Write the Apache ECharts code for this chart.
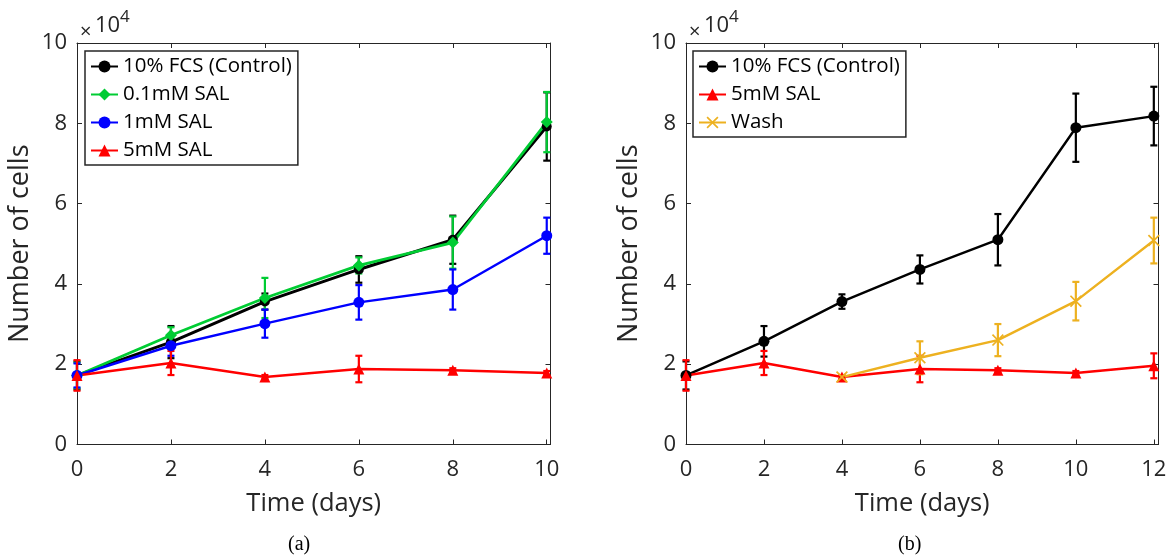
<!DOCTYPE html>
<html><head><meta charset="utf-8">
<script src="https://cdn.jsdelivr.net/npm/echarts@6/dist/echarts.min.js"></script>
<style>html,body{margin:0;padding:0;background:#fff}#c{width:1176px;height:559px}</style>
</head><body><div id="c"></div>
<script>
// ---- data (values in units of 10^4 cells) ----
const daysA = [0, 2, 4, 6, 8, 10];
const daysB = [0, 2, 4, 6, 8, 10, 12];
const washDays = [4, 6, 8, 10, 12];

const ctrlA    = [1.72, 2.55, 3.56, 4.36, 5.10, 7.92];
const ctrlAErr = [0.35, 0.40, 0.20, 0.33, 0.60, 0.85];
const sal01A    = [1.72, 2.72, 3.65, 4.46, 5.03, 8.03];
const sal01AErr = [0.32, 0.20, 0.50, 0.20, 0.65, 0.75];
const sal1A    = [1.72, 2.46, 3.01, 3.54, 3.86, 5.20];
const sal1AErr = [0.30, 0.25, 0.35, 0.43, 0.50, 0.45];
const sal5A    = [1.72, 2.03, 1.68, 1.88, 1.85, 1.78];
const sal5AErr = [0.38, 0.30, 0.05, 0.33, 0.05, 0.05];

const ctrlB    = [1.72, 2.57, 3.56, 4.36, 5.10, 7.89, 8.18];
const ctrlBErr = [0.35, 0.38, 0.18, 0.35, 0.64, 0.85, 0.73];
const sal5B    = [1.72, 2.03, 1.68, 1.88, 1.85, 1.78, 1.96];
const sal5BErr = [0.38, 0.30, 0.05, 0.33, 0.05, 0.05, 0.31];
const washB    = [1.68, 2.16, 2.60, 3.57, 5.08];
const washBErr = [0.04, 0.41, 0.40, 0.48, 0.57];

const namesA = ['10% FCS (Control)', '0.1mM SAL', '1mM SAL', '5mM SAL'];
const namesB = ['10% FCS (Control)', '5mM SAL', 'Wash'];
const yTicks = [0, 2, 4, 6, 8, 10];
const xLabel = 'Time (days)';
const yLabel = 'Number of cells';
const panelLabels = ['(a)', '(b)'];

// ---- styles ----
const FONT = '"Open Sans", "Noto Sans", sans-serif';
const AX = '#262626';
const C_BLACK = '#000000', C_GREEN = '#00cc33', C_BLUE = '#0000ff', C_RED = '#ff0000', C_ORANGE = '#edb120';
const CROSS = 'path://M0,1L1,0L5,4L9,0L10,1L6,5L10,9L9,10L5,6L1,10L0,9L4,5Z';

function pairs(xs, ys) { return xs.map((x, i) => [x, ys[i]]); }

function errSeries(ai, xs, ys, es, color, lw) {
  return {
    type: 'custom', xAxisIndex: ai, yAxisIndex: ai, silent: true, animation: false,
    data: xs.map((x, i) => [x, ys[i] - es[i], ys[i] + es[i]]),
    encode: { x: 0, y: [1, 2] },
    renderItem: function (params, api) {
      const lo = api.coord([api.value(0), api.value(1)]);
      const hi = api.coord([api.value(0), api.value(2)]);
      const w = 3.5;
      const st = { stroke: color, lineWidth: lw };
      return { type: 'group', children: [
        { type: 'line', shape: { x1: lo[0], y1: lo[1], x2: hi[0], y2: hi[1] }, style: st },
        { type: 'line', shape: { x1: lo[0] - w, y1: lo[1], x2: lo[0] + w, y2: lo[1] }, style: st },
        { type: 'line', shape: { x1: hi[0] - w, y1: hi[1], x2: hi[0] + w, y2: hi[1] }, style: st }
      ]};
    }
  };
}
function lineSeries(ai, name, xs, ys, color, symbol, size, lw) {
  return {
    type: 'line', name: name, xAxisIndex: ai, yAxisIndex: ai, data: pairs(xs, ys),
    symbol: symbol, symbolSize: size, showSymbol: true, animation: false,
    lineStyle: { color: color, width: lw },
    itemStyle: { color: color, borderColor: color, borderWidth: 0, opacity: 1 },
    emphasis: { disabled: true }
  };
}
function xLabelFmt(v) {
  const r = Math.round(v);
  return (Math.abs(v - r) < 1e-6 && r % 2 === 0) ? String(r) : '';
}
function xAxes(gi, xmax) {
  const base = {
    gridIndex: gi, type: 'value', min: 0, max: xmax, interval: 2,
    axisLine: { show: true, onZero: false, lineStyle: { color: AX, width: 1 } },
    axisTick: { show: true, inside: true, length: 5, lineStyle: { color: AX, width: 1 } },
    splitLine: { show: false }
  };
  return [
    Object.assign({}, base, {
      position: 'bottom',
      axisLabel: { color: AX, fontSize: 22, fontFamily: FONT, margin: 14, formatter: xLabelFmt },
      name: xLabel, nameLocation: 'middle', nameGap: 46,
      nameTextStyle: { color: AX, fontSize: 25.5, fontFamily: FONT }
    }),
    Object.assign({}, base, { position: 'top', axisLabel: { show: false } })
  ];
}
function yAxes(gi) {
  const base = {
    gridIndex: gi, type: 'value', min: yTicks[0], max: yTicks[yTicks.length - 1], interval: 2,
    axisLine: { show: true, onZero: false, lineStyle: { color: AX, width: 1 } },
    axisTick: { show: true, inside: true, length: 5, lineStyle: { color: AX, width: 1 } },
    splitLine: { show: false }
  };
  return [
    Object.assign({}, base, {
      position: 'left',
      axisLabel: { color: AX, fontSize: 22, fontFamily: FONT, margin: 10 },
      name: yLabel, nameLocation: 'middle', nameGap: 43,
      nameTextStyle: { color: AX, fontSize: 27, fontFamily: FONT }
    }),
    Object.assign({}, base, { position: 'right', axisLabel: { show: false } })
  ];
}
function legendFor(names, left, top) {
  return {
    data: names, orient: 'vertical', left: left, top: top,
    backgroundColor: '#fff', borderColor: AX, borderWidth: 1.5, borderRadius: 0,
    padding: [5, 6, 4, 5], itemGap: 7, itemWidth: 27, itemHeight: 15,
    textStyle: { color: '#000', fontSize: 20.5, fontFamily: FONT, lineHeight: 20 },
    selectedMode: false, inactiveColor: '#000'
  };
}
function multLabel(x0) {
  return [
    { type: 'text', left: x0, top: 22, style: { text: '×', fill: AX, font: '20px ' + FONT } },
    { type: 'text', left: x0 + 15, top: 15, style: { text: '10', fill: AX, font: '22px ' + FONT } },
    { type: 'text', left: x0 + 40, top: 9, style: { text: '4', fill: AX, font: '17px ' + FONT } }
  ];
}

const xA = xAxes(0, 10.08), xB = xAxes(1, 12.12);
const yA = yAxes(0), yB = yAxes(1);

const option = {
  backgroundColor: '#fff',
  animation: false,
  grid: [
    { left: 77, top: 43, width: 473.5, height: 401.5, containLabel: false },
    { left: 686, top: 43, width: 472.5, height: 401.5, containLabel: false }
  ],
  // index: 0 bottomA, 1 topA, 2 bottomB, 3 topB
  xAxis: [xA[0], xA[1], xB[0], xB[1]],
  yAxis: [yA[0], yA[1], yB[0], yB[1]],
  legend: [legendFor(namesA, 85, 51), legendFor(namesB, 693, 51)],
  graphic: [].concat(multLabel(80), multLabel(689), [
    { type: 'text', left: 288, top: 535, style: { text: panelLabels[0], fill: '#000', font: '20px "Liberation Serif", serif' } },
    { type: 'text', left: 898, top: 535, style: { text: panelLabels[1], fill: '#000', font: '20px "Liberation Serif", serif' } }
  ]),
  series: [
    errSeries(0, daysA, ctrlA, ctrlAErr, C_BLACK, 2.2),
    lineSeries(0, namesA[0], daysA, ctrlA, C_BLACK, 'circle', 10, 3),
    errSeries(0, daysA, sal01A, sal01AErr, C_GREEN, 2.2),
    lineSeries(0, namesA[1], daysA, sal01A, C_GREEN, 'diamond', 12, 2.8),
    errSeries(0, daysA, sal1A, sal1AErr, C_BLUE, 2.2),
    lineSeries(0, namesA[2], daysA, sal1A, C_BLUE, 'circle', 11, 2.5),
    errSeries(0, daysA, sal5A, sal5AErr, C_RED, 2.2),
    lineSeries(0, namesA[3], daysA, sal5A, C_RED, 'triangle', 11, 2.5),

    errSeries(2, daysB, ctrlB, ctrlBErr, C_BLACK, 2.2),
    lineSeries(2, namesB[0], daysB, ctrlB, C_BLACK, 'circle', 11, 2.4),
    errSeries(2, daysB, sal5B, sal5BErr, C_RED, 2.2),
    lineSeries(2, namesB[1], daysB, sal5B, C_RED, 'triangle', 11, 2.4),
    errSeries(2, washDays, washB, washBErr, C_ORANGE, 2.2),
    lineSeries(2, namesB[2], washDays, washB, C_ORANGE, CROSS, 12, 2.4)
  ]
};
const chart = echarts.init(document.getElementById('c'));
chart.setOption(option);
</script>
</body></html>
